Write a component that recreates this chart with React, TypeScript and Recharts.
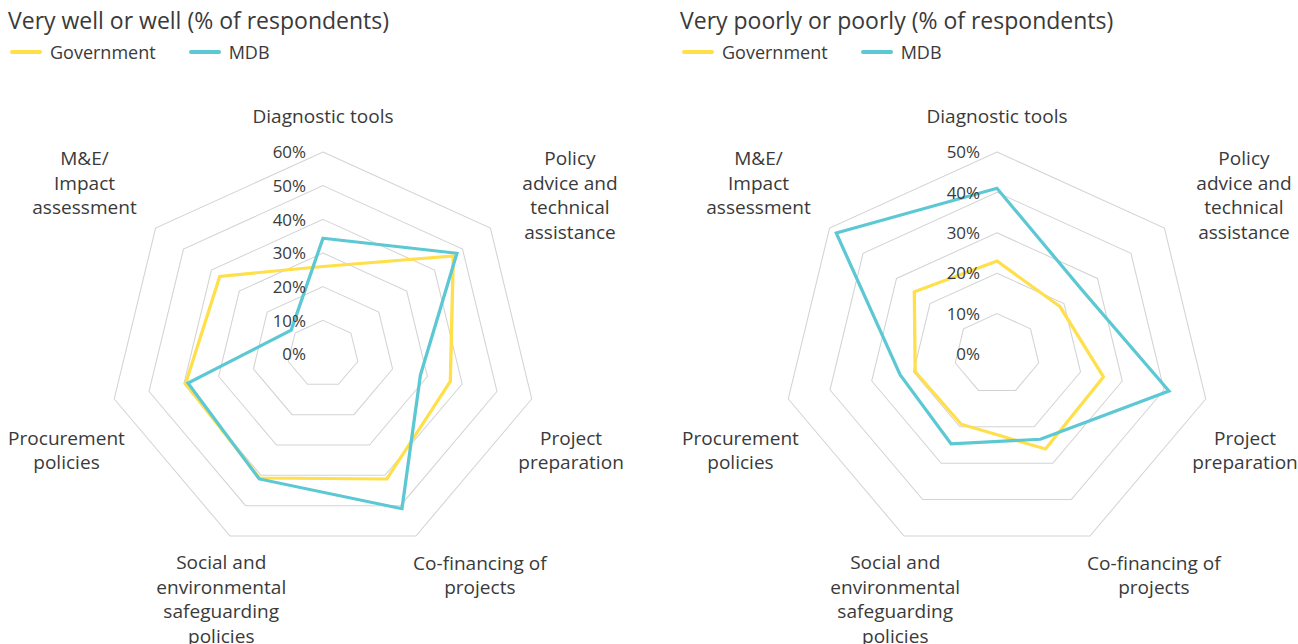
import React from "react";
import {
  RadarChart,
  Radar,
  PolarGrid,
  PolarAngleAxis,
  PolarRadiusAxis,
  Legend,
} from "recharts";

// categories, clockwise from the top
const categories = [
  "Diagnostic tools",
  "Policy advice and technical assistance",
  "Project preparation",
  "Co-financing of projects",
  "Social and environmental safeguarding policies",
  "Procurement policies",
  "M&E/ Impact assessment",
];

const categoryLines = [
  ["Diagnostic tools"],
  ["Policy", "advice and", "technical", "assistance"],
  ["Project", "preparation"],
  ["Co-financing of", "projects"],
  ["Social and", "environmental", "safeguarding", "policies"],
  ["Procurement", "policies"],
  ["M&E/", "Impact", "assessment"],
];

// "Very well or well" (% of respondents)
const wellGovernment = [26, 46.7, 36.6, 41.2, 40.9, 39.5, 37];
const wellMdb = [34.4, 48, 28, 51, 41.2, 38.8, 11.4];
const wellTicks = [0, 10, 20, 30, 40, 50, 60];

// "Very poorly or poorly" (% of respondents)
const poorGovernment = [23, 18.8, 25.5, 26.1, 19.3, 19.6, 24.7];
const poorMdb = [41, 25.4, 41.2, 23.4, 24.7, 23.2, 48];
const poorTicks = [0, 10, 20, 30, 40, 50];

const GOV_COLOR = "#FFDF4A";
const MDB_COLOR = "#5CC8D4";
const GRID_COLOR = "#d3d3d3";
const TEXT_COLOR = "#3a3a3a";
const FONT = "'Open Sans', sans-serif";

const CHART_W = 649;
const CHART_H = 644;
const CY = 354;
const OUTER_R = 202;
// the original graphic is a little wider than it is tall
const SX = 1.06;

// label block centres relative to the chart centre (before the horizontal stretch)
const labelOffsets = [
  [0, -239],
  [233, -160],
  [234, 95],
  [148, 220],
  [-96, 244],
  [-242, 95],
  [-225, -172],
];

function buildData(gov: number[], mdb: number[]) {
  return categories.map((c, i) => ({ category: c, government: gov[i], mdb: mdb[i] }));
}

function makeAngleTick(cx: number) {
  return (props: any) => {
    const idx = props.index ?? categories.indexOf(props.payload?.value);
    const lines = categoryLines[idx] || [String(props.payload?.value)];
    const [dx, dy] = labelOffsets[idx] || [0, 0];
    const x = cx + dx;
    const lh = 24.5;
    const y0 = CY + dy - ((lines.length - 1) * lh) / 2;
    return (
      <text
        x={x}
        y={y0}
        textAnchor="middle"
        dominantBaseline="central"
        fill={TEXT_COLOR}
        fontSize={18}
        fontFamily={FONT}
      >
        {lines.map((l, i) => (
          <tspan key={i} x={x} y={y0 + i * lh}>
            {l}
          </tspan>
        ))}
      </text>
    );
  };
}

function radiusTick(props: any) {
  const { x, y, payload } = props;
  return (
    <text
      x={x - 16}
      y={y}
      textAnchor="end"
      dominantBaseline="central"
      fill={TEXT_COLOR}
      fontSize={16}
      fontFamily={FONT}
    >
      {`${payload.value}%`}
    </text>
  );
}

function LegendContent(props: any) {
  const items = props.payload || [];
  return (
    <div style={{ display: "flex", alignItems: "center", fontFamily: FONT, fontSize: 18, color: TEXT_COLOR }}>
      {items.map((it: any, i: number) => (
        <div key={i} style={{ display: "flex", alignItems: "center", marginRight: 33 }}>
          <span
            style={{
              display: "inline-block",
              width: 32,
              height: 4,
              borderRadius: 2,
              background: it.color,
              marginRight: 8,
            }}
          />
          <span>{it.value}</span>
        </div>
      ))}
    </div>
  );
}

function Panel({
  id,
  title,
  gov,
  mdb,
  ticks,
  cx,
  titleLeft,
  legendLeft,
}: {
  id: string;
  title: string;
  gov: number[];
  mdb: number[];
  ticks: number[];
  cx: number;
  titleLeft: number;
  legendLeft: number;
}) {
  const data = buildData(gov, mdb);
  const max = ticks[ticks.length - 1];
  return (
    <div className={id} style={{ position: "relative", width: CHART_W, height: CHART_H }}>
      <style>{`.${id} svg.recharts-surface { transform: scaleX(${SX}); transform-origin: ${cx}px 0px; overflow: visible; }`}</style>
      <div
        style={{
          position: "absolute",
          left: titleLeft,
          top: 4,
          fontFamily: FONT,
          fontSize: 23,
          color: TEXT_COLOR,
          whiteSpace: "nowrap",
          zIndex: 2,
        }}
      >
        {title}
      </div>
      <RadarChart width={CHART_W} height={CHART_H} cx={cx} cy={CY} outerRadius={OUTER_R} data={data}>
        <PolarGrid gridType="polygon" radialLines={false} stroke={GRID_COLOR} strokeWidth={1} />
        <PolarAngleAxis
          dataKey="category"
          tick={makeAngleTick(cx)}
          tickLine={false}
          axisLine={false}
        />
        <PolarRadiusAxis
          angle={90}
          domain={[0, max]}
          ticks={ticks}
          tickCount={ticks.length}
          axisLine={false}
          tickLine={false}
          tick={radiusTick}
        />
        <Radar
          name="Government"
          dataKey="government"
          stroke={GOV_COLOR}
          strokeWidth={3.1}
          fill="none"
          fillOpacity={0}
          dot={false}
          isAnimationActive={false}
        />
        <Radar
          name="MDB"
          dataKey="mdb"
          stroke={MDB_COLOR}
          strokeWidth={3.1}
          fill="none"
          fillOpacity={0}
          dot={false}
          isAnimationActive={false}
        />
        <Legend
          content={<LegendContent />}
          wrapperStyle={{ position: "absolute", top: 40, left: legendLeft, width: "auto" }}
        />
      </RadarChart>
    </div>
  );
}

export default function App() {
  return (
    <div
      style={{
        position: "absolute",
        left: 0,
        top: 0,
        width: 1298,
        height: 644,
        background: "#fff",
        display: "flex",
        overflow: "hidden",
      }}
    >
      <Panel
        id="panel-well"
        title="Very well or well (% of respondents)"
        gov={wellGovernment}
        mdb={wellMdb}
        ticks={wellTicks}
        cx={323}
        titleLeft={8}
        legendLeft={10}
      />
      <Panel
        id="panel-poor"
        title="Very poorly or poorly (% of respondents)"
        gov={poorGovernment}
        mdb={poorMdb}
        ticks={poorTicks}
        cx={348}
        titleLeft={31}
        legendLeft={33}
      />
    </div>
  );
}
